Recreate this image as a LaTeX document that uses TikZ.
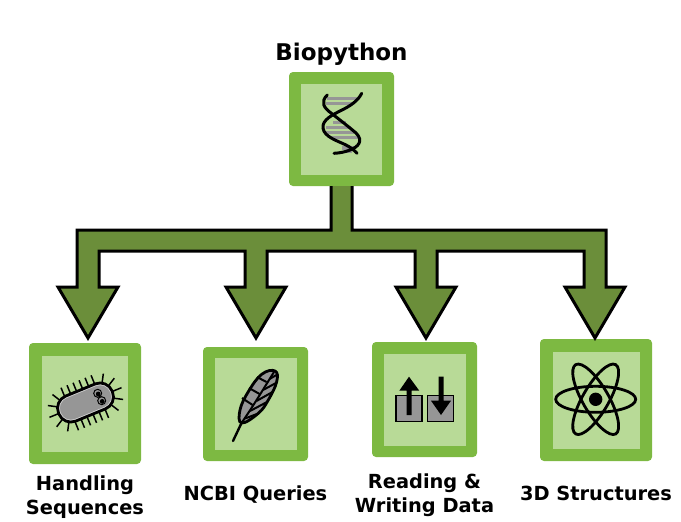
\documentclass[tikz,border=0pt]{standalone}
\usepackage{fontspec}
\setmainfont{DejaVu Sans}
\usetikzlibrary{positioning,calc}
\definecolor{tileout}{HTML}{7DB942}
\definecolor{tilein}{HTML}{B8DA97}
\definecolor{treegreen}{HTML}{6B8E3A}
\definecolor{icongray}{HTML}{969696}
\tikzset{
	tile/.style={fill=tileout, rounded corners=4pt, inner sep=0pt},
	inside/.style={fill=tilein, inner sep=0pt},
	tree/.style={draw=black, fill=treegreen, line width=3pt, miter limit=10},
	strand/.style={draw=black, line width=3pt, line cap=round},
	rung/.style={draw=icongray, line width=3.4pt},
	hair/.style={draw=black, line width=1.5pt},
	caption/.style={font=\fontsize{19.4}{24}\selectfont\bfseries, align=center, inner sep=0pt},
}
\newcommand{\headdown}[1]{-- ($(#1)+(-11,-51)$) -- ($(#1)+(-30,-51)$) -- (#1) -- ($(#1)+(30,-51)$) -- ($(#1)+(11,-51)$)}

\begin{document}
\begin{tikzpicture}[x=1pt,y=-1pt]
		\useasboundingbox (0,0) rectangle (681,522);

		\node [tile, minimum width=105pt, minimum height=114pt] (bio) at (341.5,129) {};
		\node [tile, minimum width=112pt, minimum height=121pt] (hand) at (85,403.5) {};
		\node [tile, minimum width=105pt, minimum height=114pt] (ncbi) at (255.5,404) {};
		\node [tile, minimum width=105pt, minimum height=115pt] (read) at (424.5,399.5) {};
		\node [tile, minimum width=112pt, minimum height=122pt] (struct) at (596,400) {};

		\node [inside, minimum width=81pt, minimum height=91pt] (bioin) at (bio.center) {};
		\node [inside, minimum width=86pt, minimum height=96pt] (handin) at (hand.center) {};
		\node [inside, minimum width=82pt, minimum height=92pt] (ncbiin) at (ncbi.center) {};
		\node [inside, minimum width=82pt, minimum height=92pt] (readin) at (read.center) {};
		\node [inside, minimum width=87pt, minimum height=97pt] (structin) at (struct.center) {};

		\node [caption, font=\fontsize{23}{28}\selectfont\bfseries, above=6pt of bio] (biotext) {Biopython};
		\node [caption, below=11pt of hand] (handtext) {Handling\\Sequences};
		\node [caption, below=24pt of ncbi] (ncbitext) {NCBI Queries};
		\node [caption, below=16pt of read] (readtext) {Reading \&\\Writing Data};
		\node [caption, below=25pt of struct] (structtext) {3D Structures};

		\coordinate (tipa) at (88,338);
		\coordinate (tipb) at (256,338);
		\coordinate (tipc) at (426,338);
		\coordinate (tipd) at (595,338);

		\draw [tree] ([xshift=-10.5pt]bio.south) -- ++(0,44) -- ($(tipa)+(-11,-108)$) \headdown{tipa}
			-- ($(tipa)+(11,-87)$) -- ($(tipb)+(-11,-87)$) \headdown{tipb}
			-- ($(tipb)+(11,-87)$) -- ($(tipc)+(-11,-87)$) \headdown{tipc}
			-- ($(tipc)+(11,-87)$) -- ($(tipd)+(-11,-87)$) \headdown{tipd}
			-- ($(tipd)+(11,-108)$) -- ($(bio.south)+(10.5,44)$) -- ([xshift=10.5pt]bio.south);

		\foreach \ry/\rl/\rr in {98.5/327/357,103.5/326/352,122.5/333/346,127.5/326/351,132.5/325/355,137.5/329/358,148/342/354,151/345/352}
			\draw [rung] (\rl,\ry) -- (\rr,\ry);
		\draw [strand] (327.3,95) .. controls (320,102) and (324,108) .. (331,113) .. controls (340,120) and (349,127) .. (356,133) .. controls (364,141) and (358,147) .. (350,150) .. controls (345,152) and (340,153) .. (334,153.3);
		\draw [strand] (361.7,93.3) .. controls (358,101) and (350,106) .. (342,110) .. controls (332,115) and (322,120) .. (323,128) .. controls (324,137) and (338,141) .. (346,145) .. controls (350,147) and (354,150) .. (357,153.3);

		\begin{scope}[shift={(85.5,402.5)},rotate=22.4]
			\foreach \hx in {-17,-10.5,...,18} {
				\draw [hair] (\hx,-12) -- (\hx,-23);
				\draw [hair] (\hx,12) -- (\hx,23);
			}
			\foreach \ha in {120,150,180,210,240} \draw [hair] ($(-16,0)+(\ha:11.5)$) -- ($(-16,0)+(\ha:23)$);
			\foreach \ha in {-60,-30,0,30,60} \draw [hair] ($(16,0)+(\ha:11.5)$) -- ($(16,0)+(\ha:23)$);
			\draw [fill=icongray, line width=2.8pt, rounded corners=13pt] (-29,-13.5) rectangle (29,13.5);
			\draw [icongray!40, line width=.5pt, rounded corners=11pt] (-27,-11.5) rectangle (27,11.5);
		\end{scope}
		\draw [fill=icongray, line width=1pt] (97.7,393.3) circle (4pt);
		\draw [fill=icongray, line width=1pt] (101.7,400.7) circle (4pt);
		\fill (98.2,394) circle (2.4pt);
		\fill (102.2,401.4) circle (2.4pt);

		\draw [fill=icongray, line width=2.8pt] plot [smooth cycle, tension=.7] coordinates {(241.7,423) (240,410) (248.3,391.7) (261.7,374.3) (275,371) (276.7,381.7) (268.3,400) (258.3,413.3)};
		\draw [line width=2pt] (241.5,423) .. controls (252,408) and (264,388) .. (274,372);
		\foreach \fx/\fy/\gx/\gy in {259.6/394/249/388,252.6/405/242/398,266.5/382/257/377}
			\draw [line width=2pt] (\fx,\fy) -- (\gx,\gy);
		\foreach \fx/\fy/\gx/\gy in {250/411/267/402,256.5/401/272.5/392,263/390/276/383,269.5/379/276.5/375,245/418.5/257/414}
			\draw [line width=2pt] (\fx,\fy) -- (\gx,\gy);
		\draw [line width=2.4pt, line cap=round] (241.5,423) -- (233,441);

		\draw [fill=icongray, line width=1.2pt] (396,395.7) rectangle (422,421.3);
		\draw [fill=icongray, line width=1.2pt] (427.7,395.7) rectangle (453.3,421.3);
		\fill (406.5,415) -- (406.5,390.7) -- (399.3,390.7) -- (409,376.7) -- (419.3,390.7) -- (411.5,390.7) -- (411.5,415) -- cycle;
		\fill (438.5,376.7) -- (438.5,400.7) -- (431,400.7) -- (441,415) -- (451,400.7) -- (443.5,400.7) -- (443.5,376.7) -- cycle;

		\foreach \ang in {0,60,-60}
			\draw [line width=2.8pt, rotate around={\ang:(595.7,399.3)}] (595.7,399.3) ellipse (40pt and 13pt);
		\fill (595.7,399.3) circle (6.7pt);

\end{tikzpicture}
\end{document}
